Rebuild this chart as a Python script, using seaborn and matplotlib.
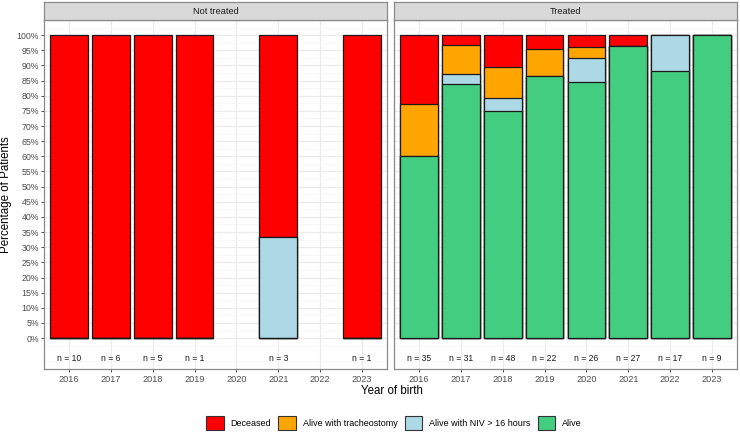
import pandas as pd
import matplotlib
matplotlib.use('Agg')
import matplotlib.pyplot as plt
import seaborn as sns
from matplotlib.patches import Patch

years = ['2016', '2017', '2018', '2019', '2020', '2021', '2022', '2023']
groups = ['Not treated', 'Treated']
status = ['Deceased', 'Alive with tracheostomy', 'Alive with NIV > 16 hours', 'Alive']
colors = ['#FF0000', '#FFA500', '#ADD8E6', '#43CD80']

# patient counts per year of birth (None = no patients that year)
untreated_deceased = [10, 6, 5, 1, None, 2, None, 1]
untreated_trach = [0, 0, 0, 0, None, 0, None, 0]
untreated_niv = [0, 0, 0, 0, None, 1, None, 0]
untreated_alive = [0, 0, 0, 0, None, 0, None, 0]

treated_deceased = [8, 1, 5, 1, 1, 1, 0, 0]
treated_trach = [6, 3, 5, 2, 1, 0, 0, 0]
treated_niv = [0, 1, 2, 0, 2, 0, 2, 0]
treated_alive = [21, 26, 36, 19, 22, 26, 15, 9]

counts = {
    'Not treated': [untreated_deceased, untreated_trach, untreated_niv, untreated_alive],
    'Treated': [treated_deceased, treated_trach, treated_niv, treated_alive],
}

rows = []
for g in groups:
    for s, vals in zip(status, counts[g]):
        for y, v in zip(years, vals):
            if v is not None:
                rows.append({'group': g, 'year': y, 'status': s, 'count': v})
df = pd.DataFrame(rows)
df['n'] = df.groupby(['group', 'year'])['count'].transform('sum')
df['pct'] = df['count'] / df['n'] * 100

plt.rcParams['font.family'] = ['Liberation Sans', 'DejaVu Sans']
fig = plt.figure(figsize=(7.4, 4.34), dpi=100)

bottom, top = 1 - 369 / 434, 1 - 20 / 434
strip_h = 18 / 434
lefts = [44 / 740, 394 / 740]
width = 343 / 740
grid_major = '#EBEBEB'
border = '#8A8A8A'

axes = []
for k, g in enumerate(groups):
    ax = fig.add_axes([lefts[k], bottom, width, top - bottom])
    sub = df[df['group'] == g]
    wide = sub.pivot(index='year', columns='status', values='pct')
    # stack bottom-to-top: Alive, NIV, trach, Deceased; draw tallest first
    stack_order = status[::-1]
    cum = wide[stack_order].cumsum(axis=1)
    for s, c in zip(status, colors):
        d = cum[s].reset_index()
        d.columns = ['year', 'val']
        sns.barplot(data=d, x='year', y='val', order=years, color=c, width=0.9,
                    saturation=1, edgecolor='#1a1a1a', linewidth=0.9,
                    errorbar=None, ax=ax, zorder=3)
    ns = sub.groupby('year')['n'].first()
    for i, y in enumerate(years):
        if y in ns.index:
            ax.text(i, -6.6, f'n = {ns[y]}', ha='center', va='center',
                    fontsize=6.2, color='#1a1a1a', zorder=4)

    ax.set_xlim(-0.6, 7.6)
    ax.set_ylim(-10.2, 105)
    ax.set_yticks(range(0, 101, 5))
    ax.set_yticks([v / 2 for v in range(-15, 210, 10)], minor=True)
    ax.set_axisbelow(True)
    ax.grid(True, which='major', axis='both', color=grid_major, linewidth=0.9, zorder=0)
    ax.grid(True, which='minor', axis='y', color='#F4F4F4', linewidth=0.5, zorder=0)
    ax.set_xlabel('')
    ax.set_ylabel('')
    ax.set_facecolor('white')
    for sp in ax.spines.values():
        sp.set_color(border)
        sp.set_linewidth(0.9)
    ax.tick_params(axis='x', which='major', length=2.2, width=0.6, color='#333333',
                   labelsize=6.6, labelcolor='#4D4D4D', pad=2)
    ax.tick_params(axis='y', which='minor', length=0)
    if k == 0:
        ax.set_yticklabels([f'{v}%' for v in range(0, 101, 5)])
        ax.tick_params(axis='y', which='major', length=2.2, width=0.6, color='#333333',
                       labelsize=6.3, labelcolor='#4D4D4D', pad=1.5)
    else:
        ax.tick_params(axis='y', which='major', length=0, labelleft=False)

    # facet strip
    sax = fig.add_axes([lefts[k], top, width, strip_h])
    sax.set_facecolor('#D9D9D9')
    sax.set_xticks([])
    sax.set_yticks([])
    for sp in sax.spines.values():
        sp.set_color(border)
        sp.set_linewidth(0.9)
    sax.text(0.5, 0.5, g, ha='center', va='center', fontsize=6.6,
             color='#1a1a1a', transform=sax.transAxes)
    axes.append(ax)

fig.text(6 / 740, 1 - 195 / 434, 'Percentage of Patients', rotation=90,
         ha='center', va='center', fontsize=8.3)
fig.text(392 / 740, 1 - 391 / 434, 'Year of birth', ha='center', va='center', fontsize=8.3)

handles = [Patch(facecolor=c, edgecolor='#333333', linewidth=0.8) for c in colors]
fig.legend(handles, status, loc='center', bbox_to_anchor=(394 / 740, 1 - 423 / 434),
           ncol=4, frameon=False, fontsize=6.5, handlelength=1.95, handleheight=1.95,
           handletextpad=0.75, columnspacing=0.8, borderpad=0)

fig.savefig('out.png', dpi=100)
